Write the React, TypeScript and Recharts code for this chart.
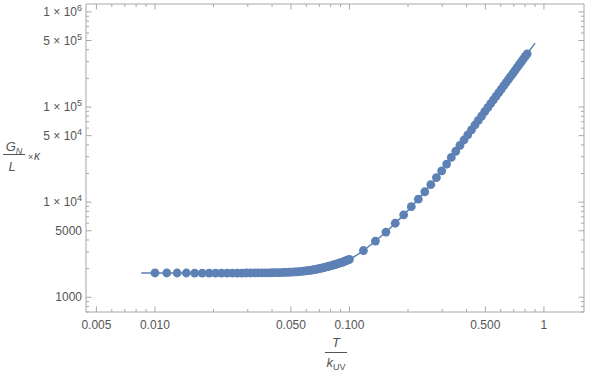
import React from 'react';
import { ComposedChart, Line, Scatter, XAxis, YAxis } from 'recharts';

// sampled points, dense part below T/kUV = 0.1
const lowT = [
  0.01, 0.0115, 0.013, 0.0145, 0.016, 0.0175, 0.019, 0.0205, 0.022, 0.0235,
  0.025, 0.0265, 0.028, 0.0295, 0.031, 0.0325, 0.034, 0.0355, 0.037, 0.0385,
  0.04, 0.0415, 0.043, 0.0445, 0.046, 0.0475, 0.049, 0.0505, 0.052, 0.0535,
  0.055, 0.0565, 0.058, 0.0595, 0.061, 0.0625, 0.064, 0.0655, 0.067, 0.0685,
  0.07, 0.0715, 0.073, 0.0745, 0.076, 0.0775, 0.079, 0.0805, 0.082, 0.0835,
  0.085, 0.0865, 0.088, 0.0895, 0.091, 0.0925, 0.094, 0.0955, 0.097, 0.0985, 0.1,
];
const lowG = [
  1800, 1800, 1799, 1799, 1798, 1798, 1797, 1797, 1797, 1797,
  1797, 1798, 1798, 1799, 1800, 1801, 1802, 1804, 1806, 1808,
  1810, 1813, 1816, 1819, 1823, 1828, 1832, 1837, 1845, 1853,
  1862, 1872, 1882, 1892, 1904, 1917, 1931, 1946, 1963, 1981,
  2000, 2020, 2040, 2061, 2082, 2104, 2126, 2149, 2172, 2196,
  2220, 2244, 2269, 2294, 2320, 2346, 2378, 2408, 2440, 2472, 2505,
];

// sampled points above 0.1
const highT = [
  0.118, 0.136, 0.154, 0.172, 0.19, 0.208, 0.226, 0.244, 0.262, 0.28,
  0.298, 0.316, 0.334, 0.352, 0.37, 0.388, 0.406, 0.424, 0.442, 0.46,
  0.478, 0.496, 0.514, 0.532, 0.55, 0.568, 0.586, 0.604, 0.622, 0.64,
  0.658, 0.676, 0.694, 0.712, 0.73, 0.748, 0.766, 0.784, 0.802, 0.82,
];
const highG = [
  3100, 3900, 4850, 6000, 7350, 8950, 10750, 12850, 15300, 18100,
  21300, 25100, 29500, 34250, 39400, 45000, 51000, 57600, 64700, 72300,
  80400, 89200, 98500, 108400, 119000, 130200, 142000, 154500, 167600, 181600,
  196200, 211500, 227600, 244500, 262100, 280500, 299700, 319800, 340700, 362600,
];

// fitted curve
const curveT = [
  0.0085, 0.01, 0.02, 0.03, 0.04, 0.05, 0.06, 0.07, 0.08, 0.09, 0.1,
  0.118, 0.136, 0.154, 0.172, 0.19, 0.226, 0.262, 0.298, 0.334, 0.406,
  0.478, 0.55, 0.64, 0.73, 0.82, 0.9,
];
const curveG = [
  1800, 1800, 1797, 1799, 1810, 1835, 1897, 2000, 2140, 2310, 2505,
  3100, 3900, 4850, 6000, 7350, 10750, 15300, 21300, 29500, 51000,
  80400, 119000, 181600, 262100, 362600, 470000,
];

const xMajorTicks = [0.005, 0.01, 0.05, 0.1, 0.5, 1];
const xMajorLabels = ['0.005', '0.010', '0.050', '0.100', '0.500', '1'];
const xMinorTicks = [
  0.006, 0.007, 0.008, 0.009, 0.02, 0.03, 0.04, 0.06, 0.07, 0.08, 0.09,
  0.2, 0.3, 0.4, 0.6, 0.7, 0.8, 0.9,
];
const yMajorTicks = [1000, 5000, 10000, 50000, 100000, 500000, 1000000];
const yMajorLabels = ['1000', '5000', '1 × 10^4', '5 × 10^4', '1 × 10^5', '5 × 10^5', '1 × 10^6'];
const yMinorTicks = [
  700, 800, 900, 2000, 3000, 4000, 6000, 7000, 8000, 9000,
  20000, 30000, 40000, 60000, 70000, 80000, 90000,
  200000, 300000, 400000, 600000, 700000, 800000, 900000,
];

const BLUE = '#5e81b5';
const FRAME = '#a8a8a8';
const TEXT = '#555555';
const FONT = '"Liberation Sans", Arial, sans-serif';

const points = [...lowT, ...highT].map((t, i) => ({ x: t, y: [...lowG, ...highG][i] }));
const curve = curveT.map((t, i) => ({ x: t, y: curveG[i] }));

const xTicks = [...xMajorTicks, ...xMinorTicks].sort((a, b) => a - b);
const yTicks = [...yMajorTicks, ...yMinorTicks].sort((a, b) => a - b);

const makeXTick = (side: 'bottom' | 'top') => (props: any) => {
  const { x, y, payload } = props;
  const idx = xMajorTicks.indexOf(payload.value);
  const len = idx >= 0 ? 5.5 : 3;
  const dir = side === 'bottom' ? -1 : 1;
  return (
    <g>
      <line x1={x} x2={x} y1={y} y2={y + dir * len} stroke={FRAME} strokeWidth={1} />
      {side === 'bottom' && idx >= 0 && (
        <text x={x} y={y + 17} textAnchor="middle" fill={TEXT} fontSize={12} fontFamily={FONT}>
          {xMajorLabels[idx]}
        </text>
      )}
    </g>
  );
};

const makeYTick = (side: 'left' | 'right') => (props: any) => {
  const { x, y, payload } = props;
  const idx = yMajorTicks.indexOf(payload.value);
  const len = idx >= 0 ? 5.5 : 3;
  const dir = side === 'left' ? 1 : -1;
  let label: React.ReactNode = null;
  if (side === 'left' && idx >= 0) {
    const [base, exp] = yMajorLabels[idx].split('^');
    label = (
      <text x={x - 4} y={y + 4} textAnchor="end" fill={TEXT} fontSize={12} fontFamily={FONT}>
        <tspan>{base}</tspan>
        {exp && <tspan dy={-5} fontSize={9}>{exp}</tspan>}
      </text>
    );
  }
  return (
    <g>
      <line x1={x} x2={x + dir * len} y1={y} y2={y} stroke={FRAME} strokeWidth={1} />
      {label}
    </g>
  );
};

const Dot = (props: any) => <circle cx={props.cx} cy={props.cy} r={4.4} fill={BLUE} />;

const App: React.FC = () => {
  const xDomain = [0.00442, 1.607];
  const yDomain = [700, 1210000];
  return (
    <div style={{ position: 'absolute', left: 0, top: 0, width: 590, height: 374 }}>
      <ComposedChart width={590} height={374} margin={{ top: 2, right: 4, bottom: 0, left: 0 }}>
        <XAxis
          xAxisId="b"
          dataKey="x"
          type="number"
          scale="log"
          domain={xDomain}
          allowDataOverflow
          ticks={xTicks}
          interval={0}
          height={62}
          tickSize={0}
          tickMargin={0}
          tickLine={false}
          axisLine={{ stroke: FRAME }}
          tick={makeXTick('bottom')}
        />
        <XAxis
          xAxisId="t"
          dataKey="x"
          type="number"
          scale="log"
          orientation="top"
          domain={xDomain}
          allowDataOverflow
          ticks={xTicks}
          interval={0}
          height={2}
          tickSize={0}
          tickMargin={0}
          tickLine={false}
          axisLine={{ stroke: FRAME }}
          tick={makeXTick('top')}
        />
        <YAxis
          yAxisId="l"
          dataKey="y"
          type="number"
          scale="log"
          domain={yDomain}
          allowDataOverflow
          ticks={yTicks}
          interval={0}
          width={86}
          tickSize={0}
          tickMargin={0}
          tickLine={false}
          axisLine={{ stroke: FRAME }}
          tick={makeYTick('left')}
        />
        <YAxis
          yAxisId="r"
          dataKey="y"
          type="number"
          scale="log"
          orientation="right"
          domain={yDomain}
          allowDataOverflow
          ticks={yTicks}
          interval={0}
          width={2}
          tickSize={0}
          tickMargin={0}
          tickLine={false}
          axisLine={{ stroke: FRAME }}
          tick={makeYTick('right')}
        />
        {/* invisible copy so the mirrored frame axes have a series */}
        <Line
          xAxisId="t"
          yAxisId="r"
          data={curve}
          dataKey="y"
          stroke="none"
          dot={false}
          activeDot={false}
          isAnimationActive={false}
        />
        <Line
          xAxisId="b"
          yAxisId="l"
          data={curve}
          dataKey="y"
          type="monotone"
          stroke={BLUE}
          strokeWidth={1.5}
          dot={false}
          isAnimationActive={false}
        />
        <Scatter
          xAxisId="b"
          yAxisId="l"
          data={points}
          dataKey="y"
          fill={BLUE}
          shape={Dot}
          isAnimationActive={false}
        />
      </ComposedChart>
      <svg
        width={590}
        height={374}
        style={{ position: 'absolute', left: 0, top: 0, pointerEvents: 'none' }}
        fontFamily={FONT}
        fill={TEXT}
      >
        {/* x title: T / k_UV */}
        <text x={336} y={347} textAnchor="middle" fontSize={13} fontStyle="italic">T</text>
        <line x1={325} x2={347} y1={352.5} y2={352.5} stroke={TEXT} strokeWidth={1} />
        <text x={336} y={367} textAnchor="middle" fontSize={13}>
          <tspan fontStyle="italic">k</tspan>
          <tspan fontSize={9} dy={3}>UV</tspan>
        </text>
        {/* y title: G_N / L x kappa */}
        <text x={14} y={151} textAnchor="middle" fontSize={13}>
          <tspan fontStyle="italic">G</tspan>
          <tspan fontSize={9} dy={3} fontStyle="italic">N</tspan>
        </text>
        <line x1={3} x2={25} y1={154.5} y2={154.5} stroke={TEXT} strokeWidth={1} />
        <text x={12} y={171} textAnchor="middle" fontSize={13} fontStyle="italic">L</text>
        <text x={28} y={160} fontSize={9}>×</text>
        <text x={34} y={160} fontSize={12} fontStyle="italic">κ</text>
      </svg>
    </div>
  );
};

export default App;
